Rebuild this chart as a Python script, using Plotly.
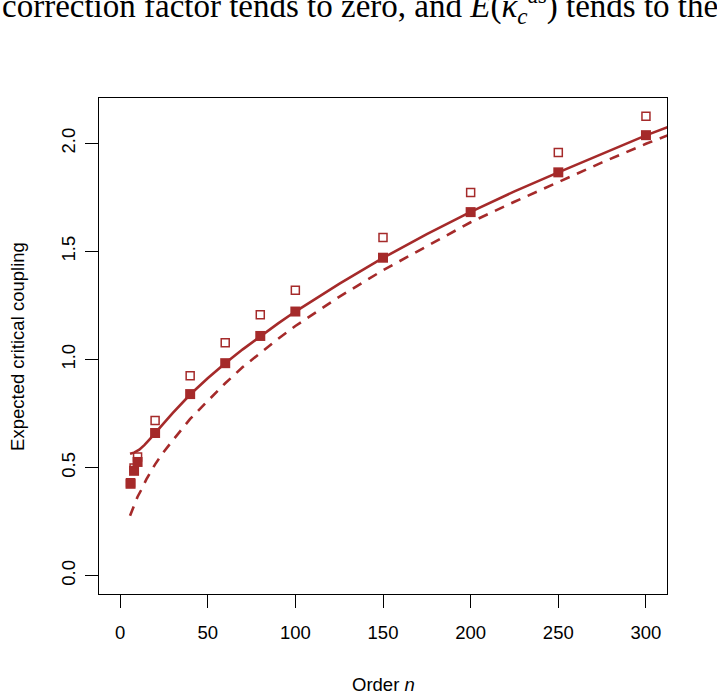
import plotly.graph_objects as go

# points: order n and the two estimates
order_n = [6, 8, 10, 20, 40, 60, 80, 100, 150, 200, 250, 300]
filled_vals = [0.425, 0.485, 0.526, 0.660, 0.840, 0.983, 1.109, 1.222, 1.471, 1.682, 1.866, 2.038]
open_vals = [0.430, 0.498, 0.549, 0.718, 0.925, 1.078, 1.207, 1.320, 1.564, 1.773, 1.958, 2.125]

# curves
curve_n = [5.7, 8, 11, 14, 17, 20, 25, 30, 40, 50, 60, 70, 80, 90, 100,
           125, 150, 175, 200, 225, 250, 275, 300, 315]
solid_vals = [0.564, 0.569, 0.583, 0.605, 0.632, 0.658, 0.706, 0.752, 0.838, 0.913,
              0.983, 1.047, 1.108, 1.166, 1.222, 1.350, 1.470, 1.580, 1.683, 1.778,
              1.866, 1.953, 2.037, 2.083]
dashed_n = [5.7, 8, 10, 12, 15, 20, 25, 30, 40, 50, 60, 70, 80, 90, 100,
            125, 150, 175, 200, 225, 250, 275, 300, 315]
dashed_vals = [0.277, 0.325, 0.365, 0.395, 0.445, 0.515, 0.573, 0.625, 0.725, 0.808,
               0.890, 0.965, 1.030, 1.095, 1.155, 1.290, 1.413, 1.525, 1.635, 1.730,
               1.822, 1.912, 1.998, 2.045]

x_ticks = [0, 50, 100, 150, 200, 250, 300]
y_ticks = [0, 0.5, 1.0, 1.5, 2.0]
y_labels = ["0.0", "0.5", "1.0", "1.5", "2.0"]

col = "#A52A2A"
sans = "Liberation Sans, Arial, sans-serif"

fig = go.Figure()
fig.add_scatter(x=curve_n, y=solid_vals, mode="lines",
                line=dict(color=col, width=2.6))
fig.add_scatter(x=dashed_n, y=dashed_vals, mode="lines",
                line=dict(color=col, width=2.6, dash="10px,8px"))
fig.add_scatter(x=order_n, y=open_vals, mode="markers",
                marker=dict(symbol="square-open", size=8, color=col,
                            line=dict(color=col, width=1.5)))
fig.add_scatter(x=order_n, y=filled_vals, mode="markers",
                marker=dict(symbol="square", size=10, color=col, line=dict(width=0)))

axis_style = dict(showgrid=False, zeroline=False, showline=True, mirror=True,
                  linecolor="black", linewidth=1.3, ticks="outside", ticklen=13,
                  tickwidth=1.3, tickcolor="black",
                  tickfont=dict(family=sans, size=18.5, color="black"))

fig.update_xaxes(range=[-12, 312], tickvals=x_ticks, ticklabelstandoff=9, **axis_style)
fig.update_yaxes(range=[-0.085, 2.21], tickvals=y_ticks, ticktext=y_labels,
                 tickangle=-90, ticklabelstandoff=2, **axis_style)

# axis titles and the clipped line of text above the figure
fig.add_annotation(text="Order <i>n</i>", xref="paper", yref="paper", x=0.5, y=-0.1815,
                   xanchor="center", yanchor="middle", showarrow=False,
                   font=dict(family=sans, size=18.5, color="black"))
fig.add_annotation(text="Expected critical coupling", xref="paper", yref="paper",
                   x=-0.1445, y=0.5, textangle=-90, xanchor="center", yanchor="middle",
                   showarrow=False, font=dict(family=sans, size=18.5, color="black"))
fig.add_annotation(text="correction factor tends to zero, and <i>E</i>(<i>κ</i><sub><i>c</i></sub><sup>as</sup>) tends to the",
                   xref="paper", yref="paper", x=-0.1743, y=1.1855,
                   xanchor="left", yanchor="middle", showarrow=False,
                   font=dict(family="Liberation Serif, Times New Roman, serif", size=33, color="black"))

fig.update_layout(width=717, height=691, showlegend=False,
                  margin=dict(l=99, r=50, t=98, b=97),
                  plot_bgcolor="white", paper_bgcolor="white")

# the page body has a default 8px margin; drop it so the figure sits at the corner
fig.write_html("out.html", config={"displayModeBar": False},
               post_script="document.body.style.margin='0';")
